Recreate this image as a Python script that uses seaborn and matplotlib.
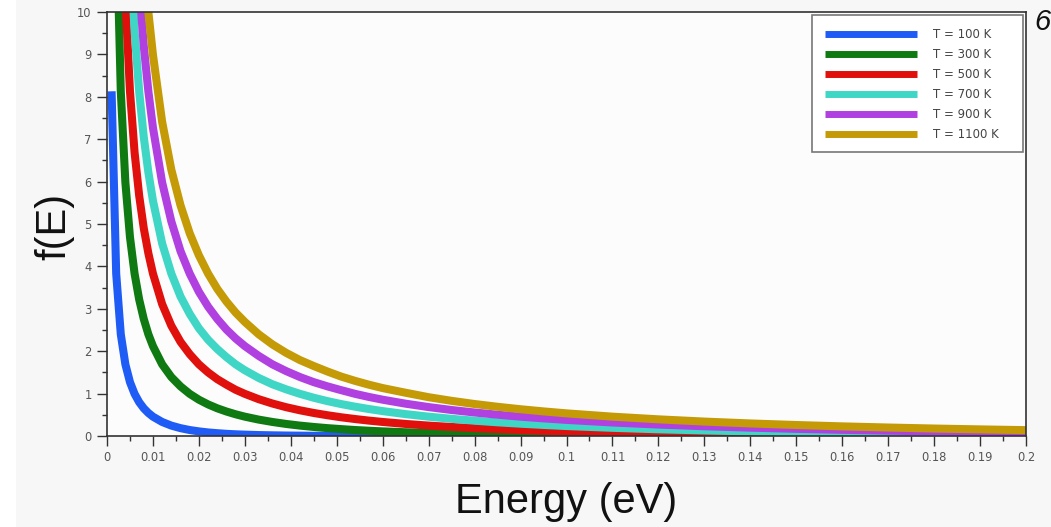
import matplotlib
matplotlib.use("Agg")
import matplotlib.pyplot as plt
from matplotlib.patches import Rectangle
from matplotlib.ticker import MultipleLocator, FuncFormatter
import pandas as pd
import seaborn as sns

# Photon occupation f(E) for several temperatures, sampled in energy (eV)
energy = [0.001, 0.002, 0.003, 0.004, 0.005, 0.006, 0.007, 0.008, 0.009, 0.010,
          0.012, 0.014, 0.016, 0.018, 0.020, 0.022, 0.024, 0.026, 0.028, 0.030,
          0.033, 0.036, 0.039, 0.042, 0.045, 0.048, 0.051, 0.054, 0.057, 0.060,
          0.065, 0.070, 0.075, 0.080, 0.085, 0.090, 0.095, 0.100,
          0.11, 0.12, 0.13, 0.14, 0.15, 0.16, 0.17, 0.18, 0.19, 0.20]

f_100 = [8.13, 3.83, 2.40, 1.69, 1.27, 0.994, 0.798, 0.653, 0.543, 0.456,
         0.331, 0.245, 0.185, 0.141, 0.109, 0.084, 0.066, 0.051, 0.040, 0.032,
         0.022, 0.016, 0.011, 0.008, 0.005, 0.004, 0.003, 0.002, 0.001, 0.001,
         0.0005, 0.0003, 0.0002, 0.0001, 0.0, 0.0, 0.0, 0.0,
         0.0, 0.0, 0.0, 0.0, 0.0, 0.0, 0.0, 0.0, 0.0, 0.0]
f_300 = [25.4, 12.4, 8.13, 5.98, 4.69, 3.83, 3.22, 2.76, 2.40, 2.12,
         1.69, 1.39, 1.17, 0.994, 0.856, 0.745, 0.653, 0.577, 0.512, 0.456,
         0.387, 0.331, 0.284, 0.245, 0.213, 0.185, 0.162, 0.141, 0.124, 0.109,
         0.088, 0.071, 0.058, 0.047, 0.039, 0.032, 0.026, 0.021,
         0.014, 0.010, 0.007, 0.0045, 0.003, 0.002, 0.0014, 0.001, 0.0006, 0.0004]
f_500 = [42.6, 21.1, 13.9, 10.3, 8.13, 6.69, 5.67, 4.90, 4.31, 3.83,
         3.11, 2.60, 2.22, 1.93, 1.69, 1.50, 1.34, 1.21, 1.09, 0.994,
         0.869, 0.766, 0.679, 0.606, 0.543, 0.489, 0.441, 0.400, 0.363, 0.331,
         0.284, 0.245, 0.213, 0.185, 0.162, 0.141, 0.124, 0.109,
         0.084, 0.066, 0.051, 0.040, 0.032, 0.025, 0.020, 0.016, 0.012, 0.010]
f_700 = [59.8, 29.7, 19.6, 14.6, 11.6, 9.56, 8.13, 7.05, 6.22, 5.55,
         4.54, 3.83, 3.29, 2.88, 2.54, 2.27, 2.05, 1.86, 1.69, 1.55,
         1.37, 1.22, 1.10, 0.994, 0.902, 0.822, 0.752, 0.691, 0.636, 0.587,
         0.516, 0.456, 0.405, 0.361, 0.323, 0.290, 0.261, 0.235,
         0.193, 0.158, 0.131, 0.109, 0.091, 0.076, 0.064, 0.053, 0.045, 0.038]
f_900 = [77.1, 38.3, 25.4, 18.9, 15.0, 12.4, 10.6, 9.20, 8.13, 7.27,
         5.98, 5.06, 4.36, 3.83, 3.40, 3.05, 2.76, 2.51, 2.30, 2.12,
         1.89, 1.69, 1.53, 1.39, 1.27, 1.17, 1.08, 0.994, 0.921, 0.856,
         0.762, 0.682, 0.613, 0.554, 0.502, 0.456, 0.416, 0.380,
         0.319, 0.270, 0.230, 0.197, 0.169, 0.146, 0.126, 0.109, 0.094, 0.082]
f_1100 = [94.3, 46.9, 31.1, 23.2, 18.5, 15.3, 13.1, 11.4, 10.0, 8.99,
          7.41, 6.28, 5.44, 4.78, 4.26, 3.83, 3.47, 3.17, 2.91, 2.69,
          2.40, 2.16, 1.96, 1.79, 1.65, 1.52, 1.40, 1.30, 1.21, 1.13,
          1.02, 0.915, 0.829, 0.754, 0.689, 0.631, 0.580, 0.534,
          0.456, 0.393, 0.340, 0.296, 0.259, 0.227, 0.200, 0.176, 0.156, 0.138]

labels = ["T = 100 K", "T = 300 K", "T = 500 K", "T = 700 K", "T = 900 K", "T = 1100 K"]
series = [f_100, f_300, f_500, f_700, f_900, f_1100]
colors = ["#1f5cf5", "#0f7a12", "#e0100c", "#3fd6c6", "#b040e0", "#c49a06"]

x_ticks = [round(0.01 * i, 2) for i in range(21)]
y_ticks = list(range(11))

df = pd.concat(
    [pd.DataFrame({"Energy": energy, "f": vals, "T": lab}) for lab, vals in zip(labels, series)],
    ignore_index=True,
)

sns.set_theme(style="ticks")
plt.rcParams["font.family"] = ["DejaVu Sans"]

W, H = 1051, 527
fig = plt.figure(figsize=(W / 100, H / 100), dpi=100, facecolor="#f7f7f7")
fig.patches.append(Rectangle((0, 0), 16 / W, 1, transform=fig.transFigure,
                             facecolor="white", edgecolor="none", zorder=0))
ax = fig.add_axes([107 / W, 91 / H, 919 / W, 424 / H])
ax.set_facecolor("#fcfcfc")

sns.lineplot(data=df, x="Energy", y="f", hue="T", hue_order=labels, palette=colors,
             estimator=None, sort=False, linewidth=5.8, solid_capstyle="butt", ax=ax)

ax.set_xlim(0, 0.2)
ax.set_ylim(0, 10)
ax.set_xticks(x_ticks)
ax.set_yticks(y_ticks)
ax.xaxis.set_major_formatter(FuncFormatter(lambda v, p: f"{v:g}"))
ax.xaxis.set_minor_locator(MultipleLocator(0.005))
ax.yaxis.set_minor_locator(MultipleLocator(0.5))
ax.tick_params(which="major", length=7, width=1, color="#333333", direction="out",
               labelsize=8.3, labelcolor="#555555", pad=4)
ax.tick_params(which="minor", length=3.5, width=1, color="#333333", direction="out")
for sp in ax.spines.values():
    sp.set_color("#333333")
    sp.set_linewidth(1.2)
ax.set_xlabel("")
ax.set_ylabel("")

# legend box drawn as its own frame, entries placed inside it
box_l, box_t, box_r, box_b = 812, 15, 1023, 152
ax.add_patch(Rectangle((box_l / W, 1 - box_b / H), (box_r - box_l) / W, (box_b - box_t) / H,
                       transform=fig.transFigure, facecolor="white", edgecolor="#777777",
                       linewidth=1.2, zorder=4.9, clip_on=False))
handles, labs = ax.get_legend_handles_labels()
leg = ax.legend(handles, labs, loc="upper left",
                bbox_to_anchor=(box_l / W, 1 - box_t / H), bbox_transform=fig.transFigure,
                prop={"family": "DejaVu Sans", "size": 8.5},
                handlelength=7.8, handletextpad=1.36, labelspacing=0.6,
                borderpad=1.08, borderaxespad=0, frameon=False,
                labelcolor="#444444")
for line in leg.get_lines():
    line.set_linewidth(5)
    line.set_solid_capstyle("butt")

fig.text(65 / W, 1 - 226 / H, "f(E)", rotation=90, rotation_mode="anchor",
         ha="center", va="baseline", fontsize=30, color="#111111",
         family="Liberation Sans")
fig.text(566 / W, 1 - 513 / H, "Energy (eV)", ha="center", va="baseline",
         fontsize=30, color="#111111", family="Liberation Sans")
fig.text(1034 / W, 1 - 30 / H, "6", ha="left", va="baseline", fontsize=21,
         style="italic", color="#111111", family="Liberation Sans")

fig.savefig("out.png", dpi=100, facecolor=fig.get_facecolor())
